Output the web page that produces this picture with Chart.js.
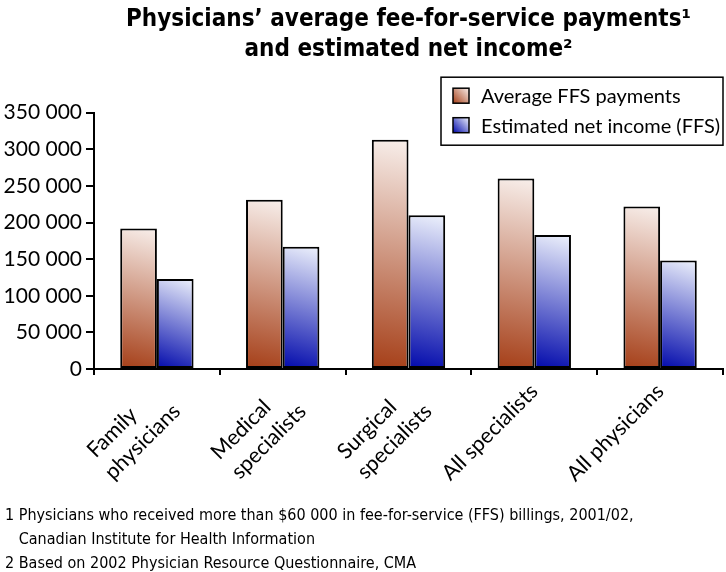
<!DOCTYPE html>
<html>
<head>
<meta charset="utf-8">
<script src="https://cdn.jsdelivr.net/npm/chart.js@4/dist/chart.umd.min.js"></script>
<style>
  html, body { margin: 0; padding: 0; background: #fff; }
  #wrap { position: relative; width: 726px; height: 572px; }
</style>
</head>
<body>
<div id="wrap"><canvas id="chart" width="726" height="572"></canvas></div>
<script>
// chart values
const categories = [["Family", "physicians"], ["Medical", "specialists"], ["Surgical", "specialists"], "All specialists", "All physicians"];
const ffsPayments = [192000, 231000, 313000, 260000, 222000];
const netIncome = [123000, 167000, 210000, 183000, 148000];
const seriesNames = ["Average FFS payments", "Estimated net income (FFS)"];
const yMax = 350000;
const yStep = 50000;
const titleLines = ["Physicians\u2019 average fee-for-service payments\u00B9", "and estimated net income\u00B2"];
const footnotes = [
  "1 Physicians who received more than $60 000 in fee-for-service (FFS) billings, 2001/02,",
  "   Canadian Institute for Health Information",
  "2 Based on 2002 Physician Resource Questionnaire, CMA"
];

const CAT_PCT = 0.583;
const bodyFont = "Lato";
const narrowFont = "'Liberation Sans Narrow', 'DejaVu Sans Condensed', sans-serif";
const xTickSize = 21.5;

function fmt(v) {
  return String(v).replace(/\B(?=(\d{3})+(?!\d))/g, " ");
}

// rotated labels are right-aligned by Chart.js; pad the short line so the
// two lines read left-aligned like the original
function padLines(label) {
  if (!Array.isArray(label)) return label;
  const m = document.createElement("canvas").getContext("2d");
  m.font = xTickSize + "px " + bodyFont;
  const w = Math.max(...label.map(s => m.measureText(s).width));
  return label.map(s => {
    while (m.measureText(s + " ").width <= w + 1) s += " ";
    return s;
  });
}

// diagonal gradient per bar: light top-right, dark bottom-left
function barFill(light, dark) {
  return function(c) {
    const chart = c.chart;
    if (c.type !== 'data' || !chart.chartArea) return dark;
    const xs = chart.scales.x, ys = chart.scales.y;
    const n = chart.data.labels.length;
    const bw = xs.width / n * CAT_PCT / 2;
    const xc = xs.getPixelForValue(c.dataIndex) + (c.datasetIndex === 0 ? -bw / 2 : bw / 2);
    const top = ys.getPixelForValue(c.raw);
    const base = ys.getPixelForValue(0);
    const g = chart.ctx.createLinearGradient(xc + bw / 2, top, xc - bw / 2, base);
    g.addColorStop(0, light);
    g.addColorStop(1, dark);
    return g;
  };
}

const browns = ["#f8efeb", "#a53e17"];
const blues = ["#eef2fc", "#0008ab"];

const legendBox = {
  id: 'legendBox',
  afterDraw(chart) {
    const ctx = chart.ctx, area = chart.chartArea;
    const right = area.right, top = area.top - 35.5;
    const w = 282, h = 68;
    ctx.save();
    ctx.fillStyle = "#fff";
    ctx.fillRect(right - w, top, w, h);
    ctx.lineWidth = 1.5;
    ctx.strokeStyle = "#000";
    ctx.strokeRect(right - w, top, w, h);
    const sets = [browns, blues];
    ctx.font = "20px " + bodyFont;
    ctx.textBaseline = "alphabetic";
    chart.data.datasets.forEach((ds, i) => {
      const sy = top + 11 + i * 29.5;
      const sx = right - w + 12;
      const g = ctx.createLinearGradient(sx + 16, sy, sx, sy + 15);
      g.addColorStop(0, sets[i][0]);
      g.addColorStop(1, sets[i][1]);
      ctx.fillStyle = g;
      ctx.fillRect(sx, sy, 16, 15);
      ctx.lineWidth = 1.5;
      ctx.strokeRect(sx, sy, 16, 15);
      ctx.fillStyle = "#000";
      ctx.fillText(ds.label, sx + 28, sy + 15);
    });
    ctx.restore();
  }
};

const footnotePlugin = {
  id: 'footnotes',
  afterDraw(chart) {
    const ctx = chart.ctx;
    ctx.save();
    ctx.fillStyle = "#000";
    ctx.font = "16px " + narrowFont;
    ctx.textBaseline = "alphabetic";
    const baselines = [520, 544, 568];
    footnotes.forEach((t, i) => ctx.fillText(t, 5, baselines[i]));
    ctx.restore();
  }
};

new Chart(document.getElementById("chart"), {
  type: "bar",
  data: {
    labels: categories.map(padLines),
    datasets: [
      {
        label: seriesNames[0],
        data: ffsPayments,
        backgroundColor: barFill(browns[0], browns[1]),
        borderColor: "#000",
        borderWidth: 2,
        borderSkipped: false
      },
      {
        label: seriesNames[1],
        data: netIncome,
        backgroundColor: barFill(blues[0], blues[1]),
        borderColor: "#000",
        borderWidth: 2,
        borderSkipped: false
      }
    ]
  },
  options: {
    responsive: false,
    animation: false,
    devicePixelRatio: 1,
    categoryPercentage: CAT_PCT,
    barPercentage: 1.0,
    layout: { padding: { top: 0, right: 3, bottom: 73, left: 0 } },
    plugins: {
      legend: { display: false },
      tooltip: { enabled: false },
      title: {
        display: true,
        fullSize: false,
        text: titleLines,
        color: "#000",
        font: { family: narrowFont, size: 24, weight: "bold", lineHeight: 1.25 },
        padding: { top: 5, bottom: 47.7 }
      }
    },
    scales: {
      x: {
        border: { color: "#000", width: 2 },
        grid: { offset: true, drawOnChartArea: false, drawTicks: true, tickLength: 6, color: "#000", lineWidth: 2 },
        ticks: {
          color: "#000",
          font: { family: bodyFont, size: xTickSize, lineHeight: 1.3 },
          minRotation: 45,
          maxRotation: 45,
          padding: 3
        },
        afterFit(s) { s.height = 130; }
      },
      y: {
        min: 0,
        max: yMax,
        border: { color: "#000", width: 2 },
        grid: { drawOnChartArea: false, drawTicks: true, tickLength: 8, color: "#000", lineWidth: 2 },
        ticks: {
          stepSize: yStep,
          color: "#000",
          padding: 4,
          font: { family: bodyFont, size: 21 },
          callback: v => fmt(v)
        },
        afterFit(s) { s.width = 94; }
      }
    }
  },
  plugins: [legendBox, footnotePlugin]
});
</script>
</body>
</html>
